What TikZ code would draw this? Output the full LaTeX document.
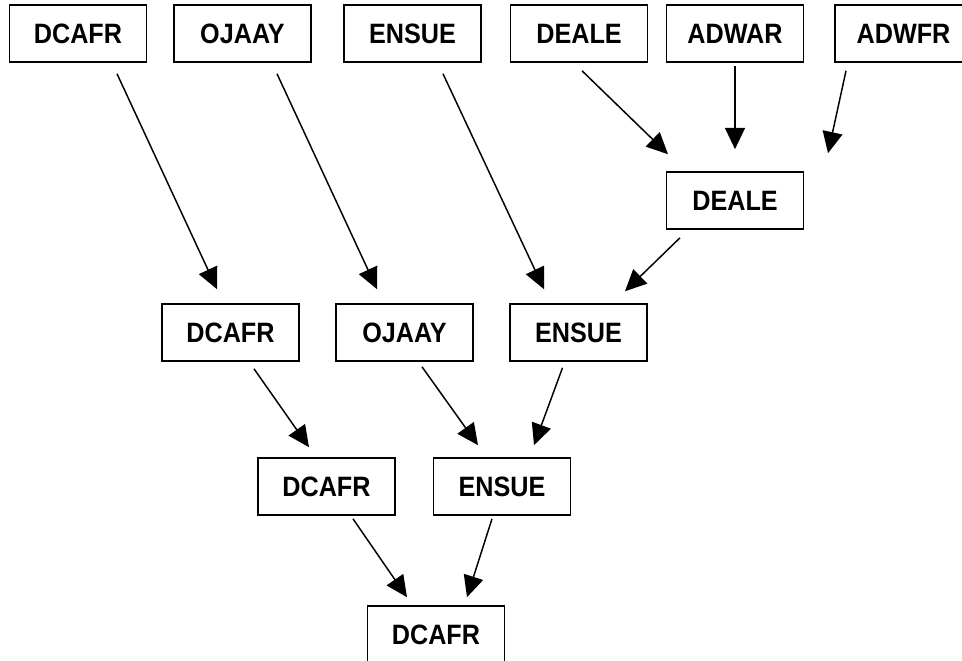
\documentclass[tikz,border=0pt]{standalone}
\usepackage{fontspec}
\setmainfont{Liberation Sans}[FakeStretch=0.9]
\usetikzlibrary{arrows.meta}
\begin{document}
\begin{tikzpicture}[x=0.75pt,y=-0.75pt,
  wbox/.style={draw=black,line width=1.2pt,rectangle,minimum width=102.75pt,minimum height=42.75pt,inner sep=0pt,
    font=\fontsize{21}{25}\selectfont\bfseries},
  arr/.style={draw=black,line width=1.1pt,-{Triangle[length=16pt,width=15pt]}}]
\useasboundingbox (0,0) rectangle (962,660);
% row 1
\node[wbox] (t1) at (78,33.5) {DCAFR};
\node[wbox] (t2) at (242.5,33.5) {OJAAY};
\node[wbox] (t3) at (412.5,33.5) {ENSUE};
\node[wbox] (t4) at (579,33.5) {DEALE};
\node[wbox] (t5) at (735,33.5) {ADWAR};
\node[wbox] (t6) at (903.5,33.5) {ADWFR};
% row 2
\node[wbox] (m) at (735,200.5) {DEALE};
% row 3
\node[wbox] (r1) at (230.5,332.5) {DCAFR};
\node[wbox] (r2) at (404.5,332.5) {OJAAY};
\node[wbox] (r3) at (578.5,332.5) {ENSUE};
% row 4
\node[wbox] (s1) at (326.5,486.5) {DCAFR};
\node[wbox] (s2) at (502,486.5) {ENSUE};
% row 5
\node[wbox] (b) at (436,634.5) {DCAFR};
% arrows
\draw[arr] ([shift={(39,11)}]t1.south) -- ([shift={(-13.5,-14)}]r1.north);
\draw[arr] ([shift={(34.5,11)}]t2.south) -- ([shift={(-27.5,-14)}]r2.north);
\draw[arr] ([shift={(30.5,11)}]t3.south) -- ([shift={(-34.5,-14)}]r3.north);
\draw[arr] ([shift={(3,8)}]t4.south) -- ([shift={(-67,-17)}]m.north);
\draw[arr] ([shift={(0,3)}]t5.south) -- ([shift={(0,-22)}]m.north);
\draw[arr] ([shift={(-57.5,8)}]t6.south) -- ([shift={(93,-18)}]m.north);
\draw[arr] ([shift={(-55,8)}]m.south) -- ([shift={(46.5,-12)}]r3.north);
\draw[arr] ([shift={(23.5,7)}]r1.south) -- ([shift={(-17.5,-10)}]s1.north);
\draw[arr] ([shift={(17.5,5)}]r2.south) -- ([shift={(-24,-12)}]s2.north);
\draw[arr] ([shift={(-16,6)}]r3.south) -- ([shift={(32,-12)}]s2.north);
\draw[arr] ([shift={(26.5,3)}]s1.south) -- ([shift={(-29,-8)}]b.north);
\draw[arr] ([shift={(-10,3)}]s2.south) -- ([shift={(31,-8)}]b.north);
\end{tikzpicture}
\end{document}
